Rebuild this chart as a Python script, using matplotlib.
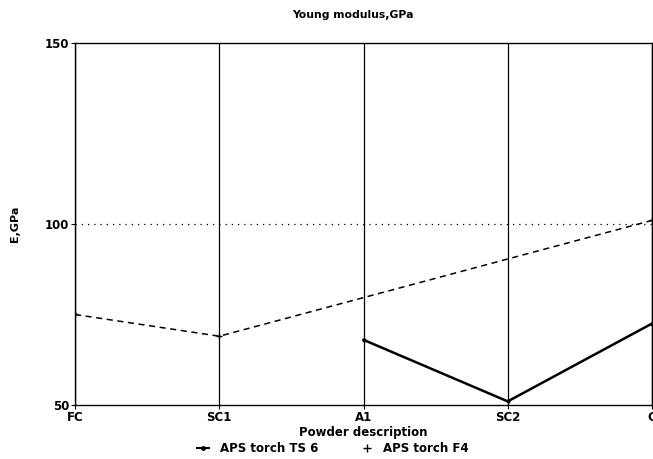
import numpy as np
import matplotlib
matplotlib.use("Agg")
import matplotlib.pyplot as plt
from matplotlib.lines import Line2D

plt.rcParams['font.family'] = ['DejaVu Sans']
plt.rcParams['font.weight'] = 'bold'

# データ
categories = ["FC", "SC1", "A1", "SC2", "C"]
ts6_idx = [2, 3, 4]
ts6_values = [68, 51, 72.5]
f4_idx = [0, 1, 4]
f4_values = [75, 69, 101]
yticks = [50, 100, 150]

W, H = 653, 459
fig = plt.figure(figsize=(W / 100, H / 100), dpi=100)
ax = fig.add_axes([75 / W, 1 - 405 / H, 577 / W, 362 / H])

# 縦のグリッド線
for i in range(len(categories)):
    ax.axvline(i, color="black", lw=0.9, zorder=1)
ax.axhline(100, color="black", lw=0.9, ls=(0, (1, 4)), zorder=1)

ax.plot(ts6_idx, ts6_values, color="black", lw=1.8, marker=".", ms=4, zorder=3)
ax.plot(f4_idx, f4_values, color="black", lw=1.1, ls=(0, (4, 3)), marker="+", ms=4, zorder=3)

ax.set_xlim(0, 4)
ax.set_ylim(50, 150)
ax.set_xticks(range(len(categories)))
ax.set_xticklabels(categories, fontsize=8.5, fontweight="bold")
ax.set_yticks(yticks)
ax.set_yticklabels([str(v) for v in yticks], fontsize=8.5, fontweight="bold")
ax.tick_params(axis="x", length=3, pad=1)
ax.tick_params(axis="y", length=3, pad=1)
for s in ax.spines.values():
    s.set_linewidth(1.0)

fig.text(353 / W, 1 - 15 / H, "Young modulus,GPa", fontsize=7.8, fontweight="bold",
         ha="center", va="center")
ax.set_ylabel("E,GPa", fontsize=8, fontweight="bold")
ax.yaxis.set_label_coords((20 - 75) / 577, 0.5)
ax.set_xlabel("Powder description", fontsize=8.5, fontweight="bold", labelpad=2)

handles = [Line2D([], [], color="black", lw=1.5, marker=".", ms=5),
           Line2D([], [], color="black", lw=0, marker="+", ms=6)]
fig.legend(handles, ["APS torch TS 6", "APS torch F4"], loc="center",
           bbox_to_anchor=(333 / W, 1 - 449 / H), ncol=2, frameon=False,
           prop={"size": 8.5, "weight": "bold"}, handlelength=1.0,
           columnspacing=3.6, handletextpad=0.9, borderpad=0)

fig.savefig("out.png", dpi=100)
